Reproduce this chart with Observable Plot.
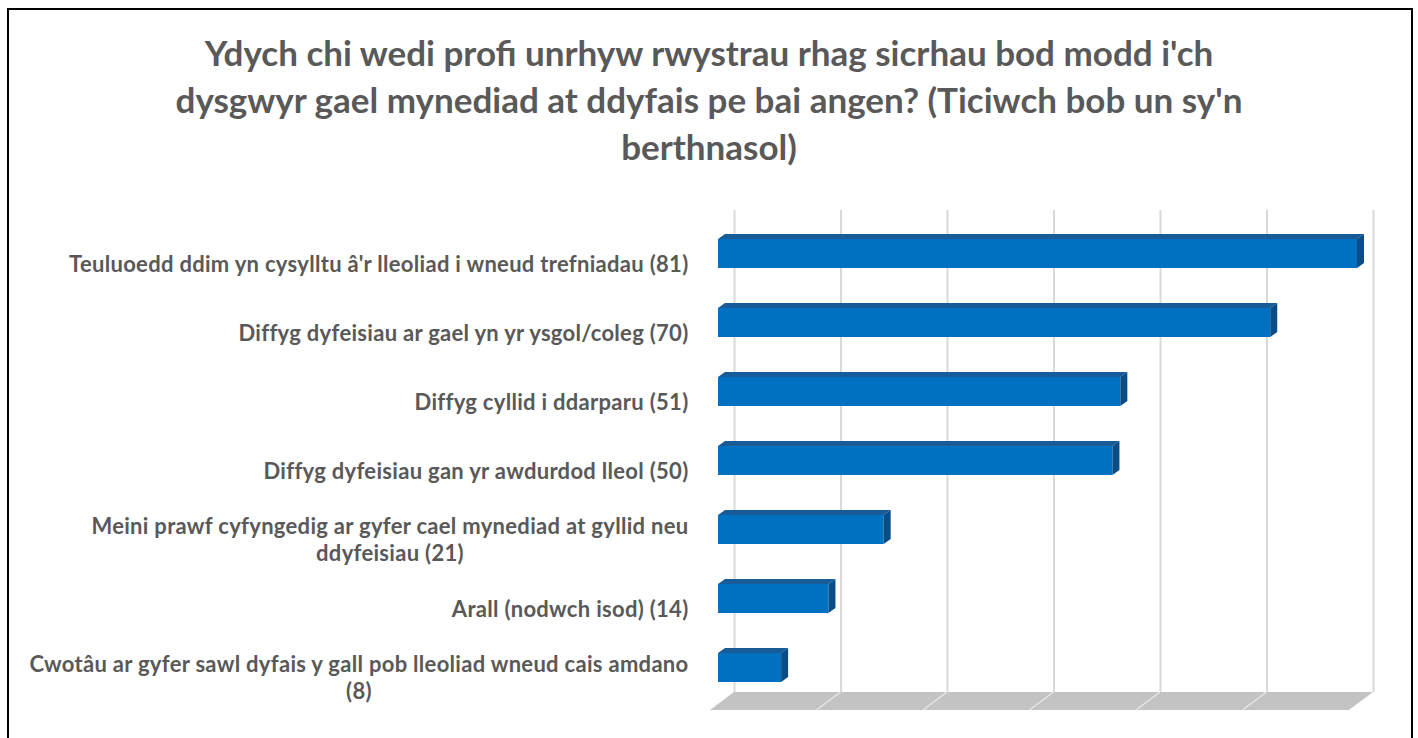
<!DOCTYPE html>
<html><head><meta charset="utf-8">
<script src="https://cdn.jsdelivr.net/npm/d3@7"></script>
<script src="https://cdn.jsdelivr.net/npm/@observablehq/plot@0.6"></script>
<style>
html,body{margin:0;padding:0;background:#fff;}
#wrap{position:relative;width:1418px;height:738px;overflow:hidden;font-family:Lato,"Open Sans",sans-serif;}
#chart{position:absolute;left:0;top:0;}
#frame{position:absolute;left:7px;top:8px;width:1406px;height:760px;border:2px solid #000;box-sizing:border-box;pointer-events:none;}
#title{position:absolute;left:0;width:1418px;top:29px;text-align:center;color:#595959;font-weight:700;font-size:35px;line-height:47px;}
</style></head>
<body>
<div id="wrap"><div id="chart"></div><div id="title"></div><div id="frame"></div></div>
<script>
// ---- data ----
const titleLines = [
  "Ydych chi wedi profi unrhyw rwystrau rhag sicrhau bod modd i'ch",
  "dysgwyr gael mynediad at ddyfais pe bai angen? (Ticiwch bob un sy'n",
  "berthnasol)"
];
const categories = [
  "Teuluoedd ddim yn cysylltu â'r lleoliad i wneud trefniadau",
  "Diffyg dyfeisiau ar gael yn yr ysgol/coleg",
  "Diffyg cyllid i ddarparu",
  "Diffyg dyfeisiau gan yr awdurdod lleol",
  "Meini prawf cyfyngedig ar gyfer cael mynediad at gyllid neu\nddyfeisiau",
  "Arall (nodwch isod)",
  "Cwotâu ar gyfer sawl dyfais y gall pob lleoliad wneud cais amdano\n"
];
const counts = [81, 70, 51, 50, 21, 14, 8];
const gridTicks = [0, 13.5, 27, 40.5, 54, 67.5, 81];
const xMax = 81;

// ---- build ----
document.getElementById("title").innerHTML = titleLines.map(l => `<div>${l.replace(/</g,"&lt;")}</div>`).join("");

const rows = categories.map((c, i) => ({
  key: c,
  value: counts[i],
  label: c.endsWith("\n") ? `${c}(${counts[i]})` : `${c} (${counts[i]})`
}));

const ns = "http://www.w3.org/2000/svg";
const DEPTH = {dx: 7, dy: 5};
const FLOOR = {back: 16, front: -8, drop: 18};

function bars3d(index, scales, values, dimensions, context, next) {
  const g = next(index, scales, values, dimensions, context);
  const rects = Array.from(g.querySelectorAll("rect"));
  for (const r of rects) {
    const x = +r.getAttribute("x"), y = +r.getAttribute("y");
    const w = +r.getAttribute("width"), h = +r.getAttribute("height");
    const top = document.createElementNS(ns, "polygon");
    top.setAttribute("points", `${x},${y} ${x + DEPTH.dx},${y - DEPTH.dy} ${x + w + DEPTH.dx},${y - DEPTH.dy} ${x + w},${y}`);
    top.setAttribute("fill", "#175b98");
    const side = document.createElementNS(ns, "polygon");
    side.setAttribute("points", `${x + w},${y} ${x + w + DEPTH.dx},${y - DEPTH.dy} ${x + w + DEPTH.dx},${y + h - DEPTH.dy} ${x + w},${y + h}`);
    side.setAttribute("fill", "#0a4c86");
    g.appendChild(top);
    g.appendChild(side);
  }
  return g;
}

function floor(index, scales, values, dimensions) {
  const x = scales.x;
  const yb = dimensions.height - dimensions.marginBottom;
  const g = document.createElementNS(ns, "g");
  const p = document.createElementNS(ns, "polygon");
  const x0 = x(0), x1 = x(xMax);
  p.setAttribute("points", `${x0 + FLOOR.back},${yb} ${x1 + FLOOR.back},${yb} ${x1 + FLOOR.front},${yb + FLOOR.drop} ${x0 + FLOOR.front},${yb + FLOOR.drop}`);
  p.setAttribute("fill", "#c3c3c3");
  g.appendChild(p);
  for (const t of gridTicks.slice(1, -1)) {
    const l = document.createElementNS(ns, "line");
    l.setAttribute("x1", x(t) + FLOOR.back); l.setAttribute("y1", yb);
    l.setAttribute("x2", x(t) + FLOOR.front); l.setAttribute("y2", yb + FLOOR.drop);
    l.setAttribute("stroke", "#e6e6e6"); l.setAttribute("stroke-width", 1.5);
    g.appendChild(l);
  }
  return g;
}

const chart = Plot.plot({
  width: 1418,
  height: 738,
  marginTop: 210,
  marginBottom: 46,
  marginLeft: 0,
  marginRight: 0,
  style: {background: "transparent", overflow: "visible"},
  x: {domain: [0, xMax], range: [718, 1357], axis: null},
  y: {domain: categories, range: [219, 701], paddingInner: 0.58, paddingOuter: 0.27, axis: null},
  marks: [
    Plot.ruleX(gridTicks, {x: d => d, dx: 16, stroke: "#d9d9d9", strokeWidth: 2}),
    floor,
    Plot.barX(rows, {x: "value", y: "key", fill: "#0070c0", render: bars3d}),
    Plot.text(rows, {
      x: 0, y: "key", text: "label", dx: -30, dy: 9,
      textAnchor: "end", fill: "#595959", fontWeight: "bold",
      fontSize: 22, fontFamily: "Lato, sans-serif", lineHeight: 1.23
    })
  ]
});
document.getElementById("chart").appendChild(chart);

// category labels: slight tracking; center wrapped labels as a block, right-aligned
chart.querySelectorAll('g[aria-label="text"] text').forEach(t => {
  t.setAttribute("letter-spacing", "0.3px");
  const spans = t.querySelectorAll("tspan");
  if (spans.length > 1) {
    let w = 0;
    spans.forEach(s => { w = Math.max(w, s.getComputedTextLength()); });
    t.setAttribute("text-anchor", "middle");
    spans.forEach(s => s.setAttribute("text-anchor", "middle"));
    const tr = t.getAttribute("transform") || "";
    t.setAttribute("transform", tr + ` translate(${-w / 2},0)`);
  }
});
</script>
</body></html>
